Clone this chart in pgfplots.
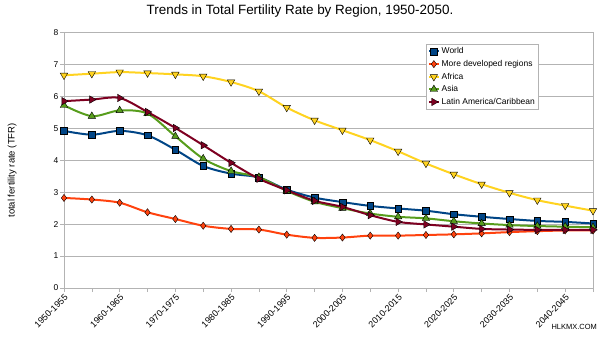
\documentclass[border=0pt]{standalone}
\usepackage{pgfplots}
\pgfplotsset{compat=1.18}
\usepackage{fontspec}
\setmainfont{Liberation Sans}
\definecolor{cWorld}{HTML}{004586}
\definecolor{cDev}{HTML}{FF420E}
\definecolor{cAfr}{HTML}{FFD320}
\definecolor{cAsia}{HTML}{579D1C}
\definecolor{cLat}{HTML}{7E0021}
\definecolor{gridc}{HTML}{B3B3B3}
\begin{document}
\begin{tikzpicture}
\useasboundingbox (-64bp,-52bp) rectangle (536bp,288bp);
\begin{axis}[
 at={(0,0)}, anchor=south west,
 scale only axis, width=529bp, height=255.5bp,
 xmin=0, xmax=19, ymin=0, ymax=8,
 ytick={0,...,8},
 xtick={0,2,...,18},
 minor xtick={1,3,...,19},
 xticklabels={1950-1955,1960-1965,1970-1975,1980-1985,1990-1995,2000-2005,2010-2015,2020-2025,2030-2035,2040-2045},
 x tick label style={rotate=45, anchor=north east, font=\fontsize{9}{9}\selectfont, inner sep=1pt},
 y tick label style={font=\fontsize{8.5}{9}\selectfont, inner sep=1.5pt},
 tick align=outside, tick pos=left,
 major tick length=4bp, minor tick length=4bp,
 every tick/.style={gridc, line width=0.6pt},
 ymajorgrids, grid style={gridc, line width=0.6pt},
 axis line style={gridc, line width=0.6pt},
 /pgf/number format/assume math mode=true,
 ylabel={total fertility rate (TFR)},
 ylabel style={at={(axis description cs:-0.098,0.46)}, anchor=center, font=\fontsize{9.5}{11}\selectfont},
 legend style={at={(axis description cs:0.685,0.955)}, anchor=north west, draw=gridc,
   font=\fontsize{8.5}{10}\selectfont, row sep=1pt, inner sep=1.5pt, cells={anchor=west}},
 legend image code/.code={\draw[mark repeat=2,mark phase=2] plot coordinates {(0cm,0cm) (0.17cm,0cm) (0.34cm,0cm)};},
 every axis plot/.append style={smooth, line width=2bp},
]
\addplot[cWorld, mark=square*, mark size=3.3bp, mark options={fill=cWorld, draw=black, line width=0.4pt}] coordinates {
(0,4.92) (1,4.80) (2,4.92) (3,4.78) (4,4.33) (5,3.82) (6,3.58) (7,3.46) (8,3.08) (9,2.83)
(10,2.69) (11,2.57) (12,2.49) (13,2.42) (14,2.31) (15,2.23) (16,2.16) (17,2.10) (18,2.07) (19,2.02)};
\addlegendentry{World}
\addplot[cDev, mark=diamond*, mark size=3.6bp, mark options={fill=cDev, draw=black, line width=0.4pt}] coordinates {
(0,2.82) (1,2.77) (2,2.67) (3,2.37) (4,2.16) (5,1.95) (6,1.85) (7,1.83) (8,1.67) (9,1.57)
(10,1.58) (11,1.64) (12,1.64) (13,1.66) (14,1.68) (15,1.71) (16,1.75) (17,1.78) (18,1.80) (19,1.80)};
\addlegendentry{More developed regions}
\addplot[cAfr, mark=triangle*, mark size=4.3bp, mark options={rotate=180, fill=cAfr, draw=black, line width=0.4pt}] coordinates {
(0,6.66) (1,6.71) (2,6.76) (3,6.73) (4,6.69) (5,6.63) (6,6.45) (7,6.16) (8,5.65) (9,5.25)
(10,4.94) (11,4.63) (12,4.28) (13,3.90) (14,3.56) (15,3.25) (16,2.98) (17,2.75) (18,2.58) (19,2.42)};
\addlegendentry{Africa}
\addplot[cAsia, mark=triangle*, mark size=4.3bp, mark options={fill=cAsia, draw=black, line width=0.4pt}] coordinates {
(0,5.72) (1,5.38) (2,5.56) (3,5.46) (4,4.75) (5,4.05) (6,3.66) (7,3.47) (8,3.04) (9,2.70)
(10,2.50) (11,2.33) (12,2.23) (13,2.18) (14,2.09) (15,2.02) (16,1.97) (17,1.94) (18,1.92) (19,1.90)};
\addlegendentry{Asia}
\addplot[cLat, mark=triangle*, mark size=4.3bp, mark options={rotate=-90, fill=cLat, draw=black, line width=0.4pt}] coordinates {
(0,5.85) (1,5.90) (2,5.95) (3,5.51) (4,5.01) (5,4.47) (6,3.92) (7,3.42) (8,3.06) (9,2.73)
(10,2.54) (11,2.28) (12,2.07) (13,1.99) (14,1.92) (15,1.85) (16,1.83) (17,1.82) (18,1.82) (19,1.82)};
\addlegendentry{Latin America/Caribbean}
\end{axis}
\node[font=\fontsize{13.5}{15}\selectfont] at (236bp,277bp) {Trends in Total Fertility Rate by Region, 1950-2050.};
\node[font=\fontsize{7.5}{9}\selectfont, anchor=east, inner sep=0pt] at (533bp,-39bp) {HLKMX.COM};
\end{tikzpicture}
\end{document}
